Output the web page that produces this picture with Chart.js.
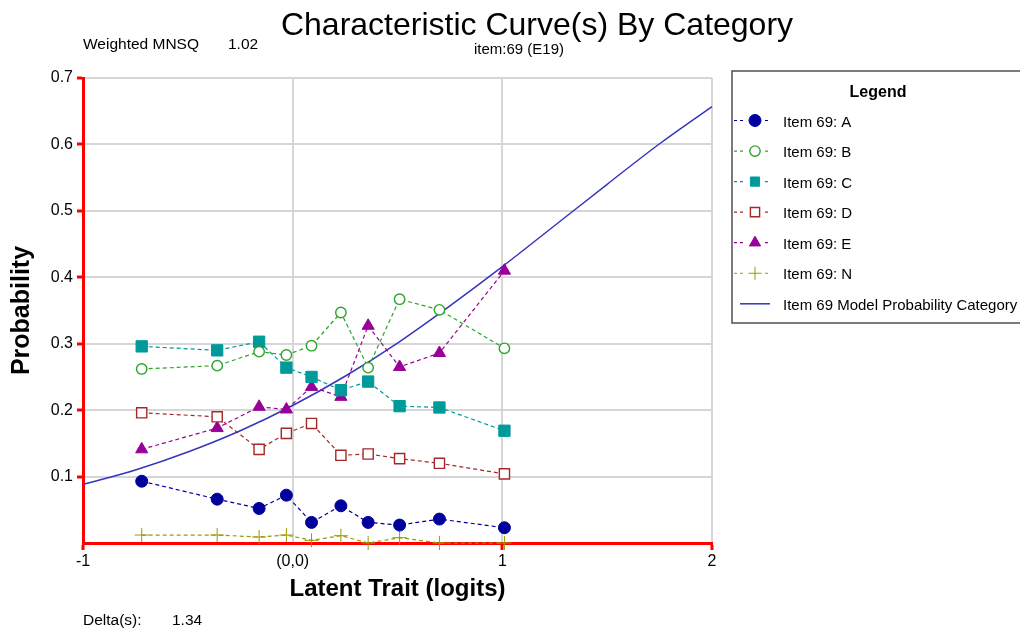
<!DOCTYPE html>
<html>
<head>
<meta charset="utf-8">
<title>Characteristic Curve(s) By Category</title>
<script src="https://cdn.jsdelivr.net/npm/chart.js@4/dist/chart.umd.min.js"></script>
<style>
  html, body { margin: 0; padding: 0; background: #ffffff; }
  #wrap { position: relative; width: 1020px; height: 628px; overflow: hidden; }
</style>
</head>
<body>
<div id="wrap"><canvas id="chart" width="1020" height="628"></canvas></div>
<script>
// Group locations on the latent trait (logits)
const theta = [-0.72, -0.36, -0.16, -0.03, 0.09, 0.23, 0.36, 0.51, 0.70, 1.01];

// Observed proportion choosing each category
const probA = [0.093, 0.066, 0.052, 0.072, 0.031, 0.056, 0.031, 0.027, 0.036, 0.023];
const probB = [0.262, 0.267, 0.288, 0.283, 0.297, 0.347, 0.264, 0.367, 0.351, 0.293];
const probC = [0.296, 0.290, 0.303, 0.264, 0.250, 0.230, 0.243, 0.206, 0.204, 0.169];
const probD = [0.196, 0.190, 0.141, 0.165, 0.180, 0.132, 0.134, 0.127, 0.120, 0.104];
const probE = [0.141, 0.173, 0.205, 0.201, 0.235, 0.220, 0.327, 0.265, 0.286, 0.410];
const probN = [0.012, 0.012, 0.009, 0.012, 0.004, 0.011, 0.000, 0.008, 0.000, 0.000];

// Model probability curve for category 2
const modelTheta = [-1, -0.75, -0.5, -0.25, 0, 0.25, 0.5, 0.75, 1, 1.25, 1.5, 1.75, 2];
const modelProb  = [0.088, 0.110, 0.137, 0.169, 0.207, 0.251, 0.301, 0.357, 0.416, 0.478, 0.540, 0.601, 0.657];

// Axis ticks
const xTicks = [-1, 0, 1, 2];
const xTickLabels = ['-1', '(0,0)', '1', '2'];
const yTicks = [0, 0.1, 0.2, 0.3, 0.4, 0.5, 0.6, 0.7];

const seriesNames = ['Item 69: A', 'Item 69: B', 'Item 69: C', 'Item 69: D', 'Item 69: E', 'Item 69: N'];
const modelName = 'Item 69 Model Probability Category 2';

const FONT = "'Liberation Sans', Arial, sans-serif";

function pts(xs, ys) { return xs.map((x, i) => ({ x: x, y: ys[i] })); }

function observed(label, values, color, style, radius, filled) {
  return {
    label: label,
    data: pts(theta, values),
    borderColor: color,
    borderWidth: 1.2,
    borderDash: [4, 3],
    pointStyle: style,
    pointRadius: radius,
    pointHoverRadius: radius,
    pointBorderColor: color,
    pointBorderWidth: filled ? 1 : 1.4,
    pointBackgroundColor: filled ? color : '#ffffff',
    fill: false,
    tension: 0,
    clip: false
  };
}

const datasets = [
  observed(seriesNames[0], probA, '#00009C', 'circle', 6, true),
  observed(seriesNames[1], probB, '#2AA52A', 'circle', 5.2, false),
  observed(seriesNames[2], probC, '#009A9A', 'rect', 8, true),
  observed(seriesNames[3], probD, '#A52828', 'rect', 7.2, false),
  observed(seriesNames[4], probE, '#990099', 'triangle', 7, true),
  observed(seriesNames[5], probN, '#9A9A00', 'cross', 7, true),
  {
    label: modelName,
    data: pts(modelTheta, modelProb),
    borderColor: '#3535BE',
    borderWidth: 1.5,
    pointRadius: 0,
    pointHoverRadius: 0,
    fill: false,
    cubicInterpolationMode: 'monotone',
    clip: false
  }
];

// Free-standing texts and the boxed legend
const decorations = {
  id: 'decorations',
  afterDraw(chart) {
    const ctx = chart.ctx;
    ctx.save();
    ctx.fillStyle = '#000000';
    ctx.textBaseline = 'alphabetic';

    ctx.textAlign = 'center';
    ctx.font = '32px ' + FONT;
    ctx.fillText('Characteristic Curve(s) By Category', 537, 35);
    ctx.font = '15px ' + FONT;
    ctx.fillText('item:69 (E19)', 519, 54);

    ctx.textAlign = 'left';
    ctx.font = '15.5px ' + FONT;
    ctx.fillText('Weighted MNSQ', 83, 49);
    ctx.fillText('1.02', 228, 49);
    ctx.fillText('Delta(s):', 83, 625);
    ctx.fillText('1.34', 172, 625);

    // legend frame
    ctx.strokeStyle = '#505050';
    ctx.lineWidth = 1.5;
    ctx.strokeRect(732, 71, 300, 252);

    ctx.textAlign = 'center';
    ctx.font = 'bold 16px ' + FONT;
    ctx.fillText('Legend', 878, 97);

    const rowY0 = 120.5, rowStep = 30.55;
    chart.data.datasets.forEach((ds, i) => {
      const y = rowY0 + i * rowStep;
      ctx.strokeStyle = ds.borderColor;
      ctx.lineWidth = ds.borderWidth;
      if (ds.borderDash) {
        ctx.setLineDash([3, 3]);
        ctx.beginPath();
        ctx.moveTo(734, y); ctx.lineTo(745, y);
        ctx.moveTo(765, y); ctx.lineTo(770, y);
        ctx.stroke();
        ctx.setLineDash([]);
        ctx.fillStyle = ds.pointBackgroundColor;
        ctx.strokeStyle = ds.pointBorderColor;
        ctx.lineWidth = ds.pointBorderWidth;
        Chart.helpers.drawPoint(ctx, {
          pointStyle: ds.pointStyle,
          radius: Math.min(ds.pointRadius, 6.5),
          rotation: 0,
          borderWidth: ds.pointBorderWidth
        }, 755, y);
      } else {
        ctx.beginPath();
        ctx.moveTo(740, y); ctx.lineTo(770, y);
        ctx.stroke();
      }
      ctx.fillStyle = '#000000';
      ctx.textAlign = 'left';
      ctx.font = '15px ' + FONT;
      ctx.fillText(ds.label, 783, y + 6);
    });
    ctx.restore();
  }
};

new Chart(document.getElementById('chart'), {
  type: 'line',
  data: { datasets: datasets },
  plugins: [decorations],
  options: {
    responsive: false,
    devicePixelRatio: 1,
    animation: false,
    events: [],
    layout: { padding: { left: 0, top: 78, right: 308, bottom: 0 } },
    plugins: {
      legend: { display: false },
      title: { display: false },
      tooltip: { enabled: false }
    },
    scales: {
      x: {
        type: 'linear',
        min: -1,
        max: 2,
        afterBuildTicks: (scale) => { scale.ticks = xTicks.map(v => ({ value: v })); },
        afterFit: (scale) => { scale.height = 85; },
        ticks: {
          color: '#000000',
          font: { family: FONT, size: 16 },
          padding: 2,
          maxRotation: 0,
          autoSkip: false,
          callback: (value) => xTickLabels[xTicks.indexOf(value)]
        },
        grid: {
          color: (c) => (c.tick && c.tick.value === -1) ? 'rgba(0,0,0,0)' : '#D6D6D6',
          lineWidth: 2,
          drawTicks: true,
          tickLength: 7,
          tickWidth: 3,
          tickColor: (c) => (c.tick && c.tick.value === 0) ? 'rgba(0,0,0,0)' : '#FF0000'
        },
        border: { display: true, color: '#FF0000', width: 3 },
        title: {
          display: true,
          text: 'Latent Trait (logits)',
          color: '#000000',
          font: { family: FONT, size: 24, weight: 'bold' },
          padding: { top: 0, bottom: 24 }
        }
      },
      y: {
        type: 'linear',
        min: 0,
        max: 0.7,
        afterBuildTicks: (scale) => { scale.ticks = yTicks.map(v => ({ value: v })); },
        afterFit: (scale) => { scale.width = 83; },
        ticks: {
          color: '#000000',
          font: { family: FONT, size: 16 },
          padding: 4,
          callback: (value) => value === 0 ? '' : value.toFixed(1)
        },
        grid: {
          color: (c) => (c.tick && c.tick.value === 0) ? 'rgba(0,0,0,0)' : '#D6D6D6',
          lineWidth: 2,
          drawTicks: true,
          tickLength: 6,
          tickWidth: 3,
          tickColor: (c) => (c.tick && c.tick.value === 0) ? 'rgba(0,0,0,0)' : '#FF0000'
        },
        border: { display: true, color: '#FF0000', width: 3 },
        title: {
          display: true,
          text: 'Probability',
          color: '#000000',
          font: { family: FONT, size: 25, weight: 'bold' },
          padding: { top: 7, bottom: 0 }
        }
      }
    }
  }
});
</script>
</body>
</html>
